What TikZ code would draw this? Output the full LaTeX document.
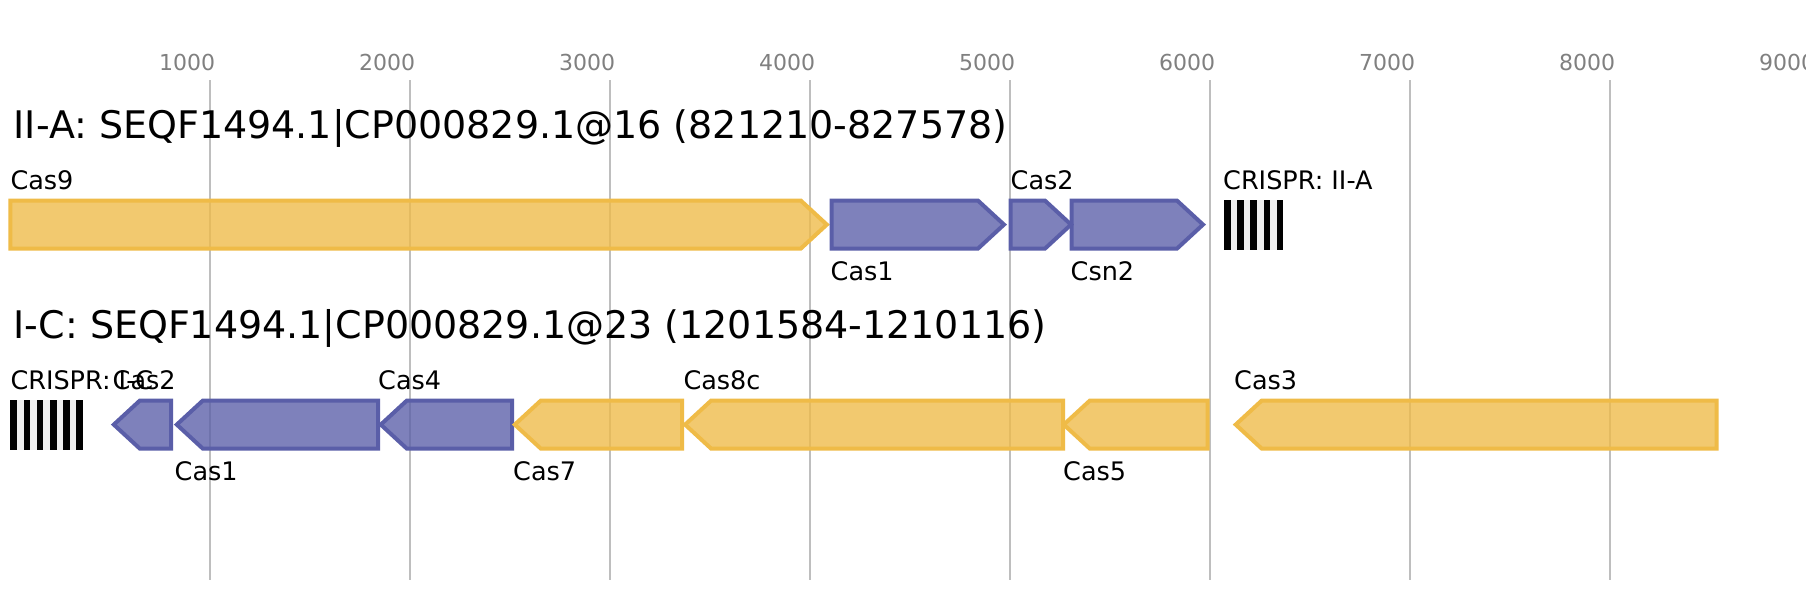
\documentclass[tikz,border=0pt]{standalone}
\usepackage{fontspec}
\setmainfont{DejaVu Sans}
\definecolor{ystroke}{HTML}{EFBB47}
\definecolor{bstroke}{HTML}{5A5EA8}
\definecolor{gridc}{HTML}{BEBEBE}
\definecolor{tickc}{HTML}{808080}
\definecolor{spacer}{HTML}{EEEEEE}
\newcommand\generight[4]{%
  \draw[#1] (#2,#4-24) -- (#3-26,#4-24) -- (#3,#4) -- (#3-26,#4+24) -- (#2,#4+24) -- cycle;}
\newcommand\geneleft[4]{%
  \draw[#1] (#3,#4-24) -- (#2+26,#4-24) -- (#2,#4) -- (#2+26,#4+24) -- (#3,#4+24) -- cycle;}
\begin{document}
\begin{tikzpicture}[x=1pt,y=-1pt,
  ygene/.style={draw=ystroke, fill=ystroke, fill opacity=0.78, line width=4pt},
  bgene/.style={draw=bstroke, fill=bstroke, fill opacity=0.78, line width=4pt},
  gridl/.style={draw=gridc, line width=2pt},
  ticklab/.style={anchor=base, inner sep=0, text=tickc, font=\fontsize{22}{26}\selectfont},
  titlelab/.style={anchor=base west, inner sep=0, font=\fontsize{38}{45}\selectfont},
  lab/.style={anchor=base west, inner sep=0, font=\fontsize{25.5}{30}\selectfont},
]
\useasboundingbox (0,0) rectangle (1806,600);
\fill[white] (0,0) rectangle (1806,600);
% grid and ticks
\foreach \k in {1,...,8} \draw[gridl] (\k*200+9.7,80) -- (\k*200+9.7,580);
\foreach \k in {1,...,9} \node[ticklab] (t\k) at (\k*200+9.7-22.5,70.7) {\k000};
% titles
\node[titlelab] (title1) at (13.5,138.5) {II-A: SEQF1494.1|CP000829.1@16 (821210-827578)};
\node[titlelab] (title2) at (13.5,338.5) {I-C: SEQF1494.1|CP000829.1@23 (1201584-1210116)};
% row 1
\generight{ygene}{10.4}{826.8}{224.6}
\generight{bgene}{831.6}{1004}{224.6}
\generight{bgene}{1010.7}{1071}{224.6}
\generight{bgene}{1071.6}{1203}{224.6}
\fill[spacer] (1224,200) rectangle (1283.4,249.5);
\foreach \i in {0,2,...,8} \fill[black] (1224+\i*6.6,200) rectangle ++(6.6,49.5);
\node[lab] (l9) at (10.3,189.3) {Cas9};
\node[lab] (l1a) at (830.5,280.5) {Cas1};
\node[lab] (l2a) at (1010.5,189.3) {Cas2};
\node[lab] (lcsn) at (1070.5,280.5) {Csn2};
\node[lab] (lcr1) at (1223,189.3) {CRISPR: II-A};
% row 2
\fill[spacer] (10.3,400) rectangle (82.9,450);
\foreach \i in {0,2,...,10} \fill[black] (10.3+\i*6.6,400) rectangle ++(6.6,50);
\geneleft{bgene}{113.8}{171}{424.6}
\geneleft{bgene}{176.8}{378}{424.6}
\geneleft{bgene}{380.8}{512}{424.6}
\geneleft{ygene}{514.8}{682.2}{424.6}
\geneleft{ygene}{685.1}{1063}{424.6}
\geneleft{ygene}{1063.8}{1207.7}{424.6}
\geneleft{ygene}{1235.7}{1716.7}{424.6}
\node[lab] (lcr2) at (10.3,389.3) {CRISPR: I-C};
\node[lab] (l2b) at (112.5,389.3) {Cas2};
\node[lab] (l1b) at (174.5,480) {Cas1};
\node[lab] (l4) at (378,389.3) {Cas4};
\node[lab] (l7) at (513,480) {Cas7};
\node[lab] (l8) at (683.3,389.3) {Cas8c};
\node[lab] (l5) at (1063,480) {Cas5};
\node[lab] (l3) at (1234,389.3) {Cas3};
\end{tikzpicture}
\end{document}
